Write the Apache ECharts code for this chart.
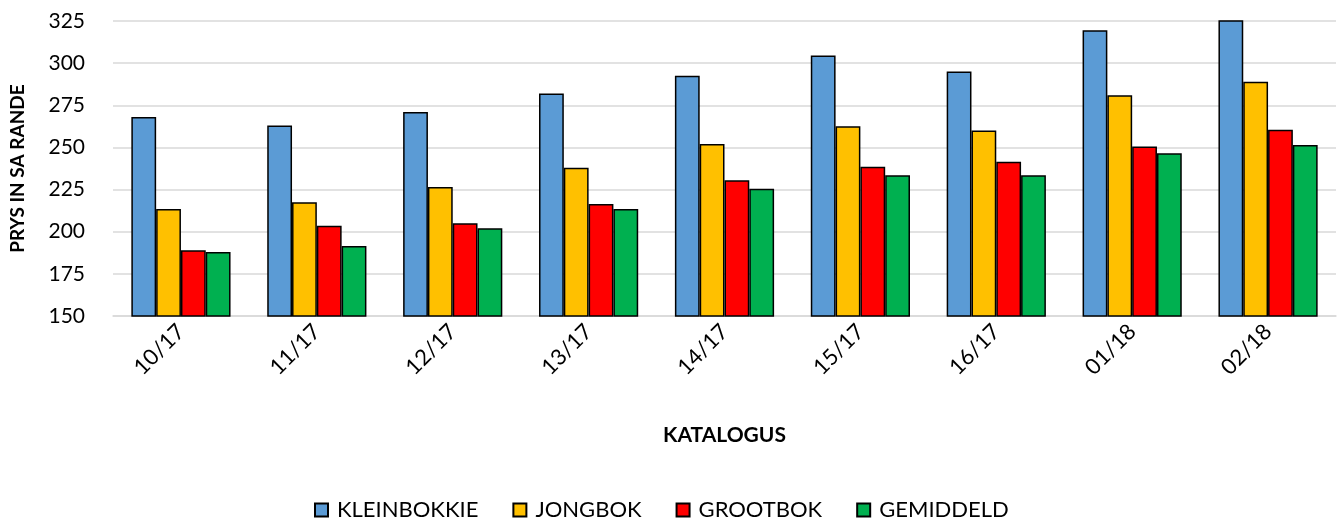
<!DOCTYPE html>
<html>
<head>
<meta charset="utf-8">
<script src="https://cdn.jsdelivr.net/npm/echarts@6/dist/echarts.min.js"></script>
<style>
html,body{margin:0;padding:0;background:#fff;}
#chart{width:1341px;height:521px;}
</style>
</head>
<body>
<div id="chart"></div>
<script>
const categories = ["10/17","11/17","12/17","13/17","14/17","15/17","16/17","01/18","02/18"];
const kleinbokkie = [268, 263, 271, 282, 292.5, 304.5, 295, 319.5, 330];
const jongbok     = [213.5, 217.5, 226.5, 238, 252, 262.5, 260, 281, 289];
const grootbok    = [189, 203.5, 205, 216.5, 230.5, 238.5, 241.5, 250.5, 260.5];
const gemiddeld   = [188, 191.5, 202, 213.5, 225.5, 233.5, 233.5, 246.5, 251.5];
const seriesNames = ["KLEINBOKKIE","JONGBOK","GROOTBOK","GEMIDDELD"];
const colors = ["#5b9bd5","#ffc000","#ff0000","#00b050"];
const yTicks = {min:150, max:325, interval:25};

const FONT = "Lato";
const chart = echarts.init(document.getElementById('chart'));
const dataSets = [kleinbokkie, jongbok, grootbok, gemiddeld];
chart.setOption({
  animation:false,
  textStyle:{fontFamily:FONT},
  grid:{left:113, right:5, top:21, bottom:205},
  legend:{
    top:494, left:309,
    itemWidth:13, itemHeight:13, itemGap:34,
    textStyle:{fontSize:22, color:'#000', fontFamily:FONT, padding:[0,0,0,4]},
    data:seriesNames.map(n=>({name:n, icon:'rect'}))
  },
  xAxis:{
    type:'category', data:categories,
    name:'KATALOGUS', nameLocation:'middle', nameGap:109,
    nameTextStyle:{fontSize:21, fontWeight:'bold', color:'#000', fontFamily:FONT},
    axisLine:{lineStyle:{color:'#d9d9d9', width:1.5}},
    axisTick:{show:false},
    axisLabel:{rotate:45, fontSize:22, color:'#000', margin:12, fontFamily:FONT}
  },
  yAxis:{
    type:'value', min:yTicks.min, max:yTicks.max, interval:yTicks.interval,
    name:'PRYS IN SA RANDE', nameLocation:'middle', nameGap:86, nameRotate:90,
    nameTextStyle:{fontSize:19, fontWeight:'bold', color:'#000', fontFamily:FONT},
    axisLine:{show:false}, axisTick:{show:false},
    axisLabel:{fontSize:21, color:'#000', margin:28, fontFamily:FONT},
    splitLine:{lineStyle:{color:'#d9d9d9', width:1.5}}
  },
  series: dataSets.map((d,i)=>({
    name:seriesNames[i], type:'bar', data:d,
    barGap:'0%', barCategoryGap:'27%', clip:true,
    itemStyle:{color:colors[i], borderColor:'#000', borderWidth:1.5}
  }))
});
</script>
</body>
</html>
